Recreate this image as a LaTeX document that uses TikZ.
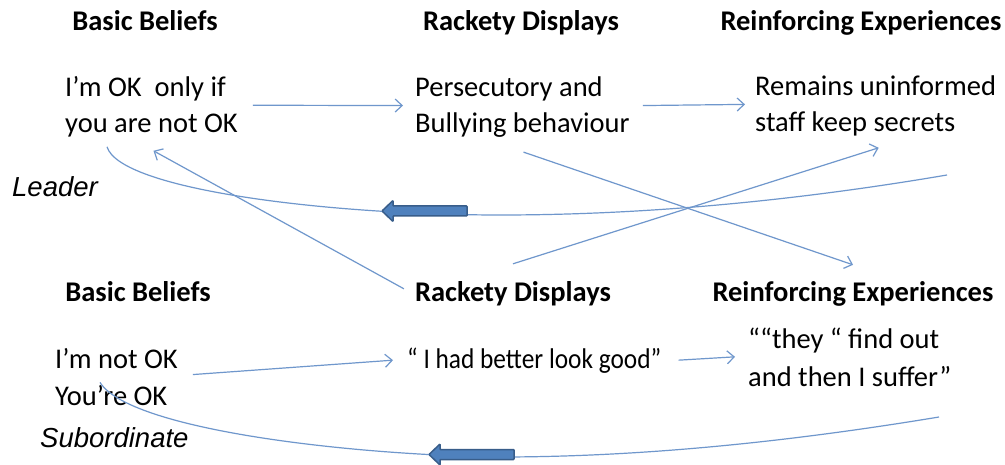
\documentclass[tikz,border=0pt]{standalone}
\usepackage{fontspec}
\setmainfont{Carlito}
\newfontfamily\labelfont{Liberation Sans}
\usetikzlibrary{arrows.meta}
\definecolor{linkblue}{HTML}{6F97CC}
\definecolor{arrowfill}{HTML}{4F81BD}
\definecolor{arrowedge}{HTML}{385D8A}

\begin{document}
\begin{tikzpicture}[x=1pt,y=-1pt,
  head/.style={font=\fontsize{28.5}{32}\selectfont\bfseries, inner sep=0pt, anchor=base},
  body/.style={font=\fontsize{28.5}{36}\selectfont, inner sep=0pt, anchor=base west, align=left},
  role/.style={font=\labelfont\itshape\fontsize{27.5}{30}\selectfont, inner sep=0pt, anchor=base west},
  link/.style={draw=linkblue, line width=1.2pt, -{Straight Barb[length=7pt,width=13pt]}},
  loop/.style={draw=linkblue, line width=1.2pt},
  blockarrow/.pic={
    \path[fill=arrowfill, draw=arrowedge, line width=1.5pt, rounded corners=0.8pt]
      (0,0) -- (11,-10.5) -- (11,-5) -- (85,-5) -- (85,5) -- (11,5) -- (11,10.5) -- cycle;
  }
]
\fill[white] (0,0) rectangle (1005,465);
\useasboundingbox (0,0) rectangle (1005,465);

% Leader row (multi-line blocks are placed by the baseline of their last line)
\node[head] (h1) at (145,31) {Basic Beliefs};
\node[head] (h2) at (521,31) {Rackety Displays};
\node[head] (h3) at (861,31) {Reinforcing Experiences};
\node[body] (b1) at (65,133) {I’m OK~~only if\\you are not OK};
\node[body] (b2) at (415,133) {Persecutory and\\Bullying behaviour};
\node[body] (b3) at (755,132) {Remains uninformed\\staff keep secrets};
\node[role] (lead) at (12,197) {Leader};

% Subordinate row
\node[head] (h4) at (138,302) {Basic Beliefs};
\node[head] (h5) at (513,302) {Rackety Displays};
\node[head] (h6) at (853,302) {Reinforcing Experiences};
\node[body, font=\fontsize{28.5}{37}\selectfont] (b4) at (55,405) {I’m not OK\\You’re OK};
\node[body] (b5) at (407,368) {\scalebox{0.89}[1]{“ I had better look good”}};
\node[body, font=\fontsize{28.5}{38}\selectfont] (b6) at (748,386) {““they “ find out\\and then I suffer”};
\node[role] (sub) at (40,447) {Subordinate};

% free ends of the feedback loops
\coordinate (r1) at (947,175);
\coordinate (r2) at (939,417);

% forward links
\draw[link] ([xshift=15pt,yshift=2pt]b1.east) -- ([xshift=-12pt,yshift=2pt]b2.west);
\draw[link] ([xshift=13pt,yshift=2pt]b2.east) -- ([xshift=-10pt,yshift=2pt]b3.west);
\draw[link] ([xshift=15pt,yshift=2pt]b4.east) -- ([xshift=-14pt]b5.west);
\draw[link] ([xshift=17pt]b5.east) -- ([xshift=-13pt]b6.west);

% cross links between the rows
\draw[link] ([yshift=18pt]h5.north) -- ([xshift=3pt,yshift=-11pt]b3.south);
\draw[link] ([xshift=1pt,yshift=-14pt]b2.south) -- ([yshift=17pt]h6.north);
\draw[link] ([xshift=-11pt,yshift=-7pt]h5.north west) -- ([xshift=2pt,yshift=-13pt]b1.south);

% feedback loops
\draw[loop] (r1) .. controls (800,200) and (650,215) .. (500,215)
  .. controls (330,215) and (120,190) .. ([xshift=42pt,yshift=-9pt]b1.south west);
\draw[loop] (r2) .. controls (800,440) and (650,457) .. (500,457)
  .. controls (350,455) and (130,430) .. ([xshift=45pt,yshift=23pt]b4.south west);

% direction markers on the loops
\pic at (382,211) {blockarrow};
\pic at (429,454.5) {blockarrow};
\end{tikzpicture}
\end{document}
